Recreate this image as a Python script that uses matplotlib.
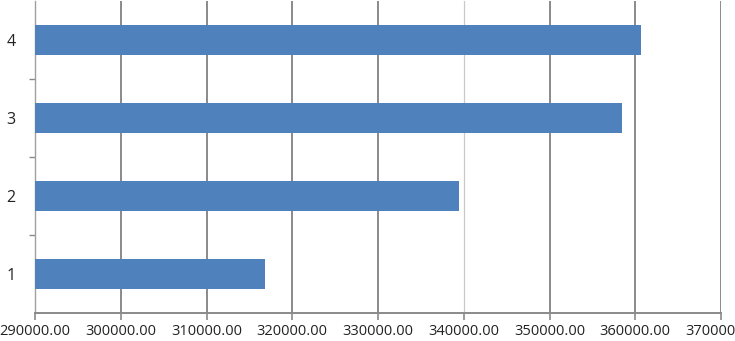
import matplotlib
matplotlib.use("Agg")
import matplotlib.pyplot as plt
from matplotlib.ticker import FixedLocator

categories = ["1", "2", "3", "4"]
values = [316800, 339450, 358450, 360650]
x_ticks = [290000, 300000, 310000, 320000, 330000, 340000, 350000, 360000, 370000]
x_labels = ["290000.00", "300000.00", "310000.00", "320000.00", "330000.00",
            "340000.00", "350000.00", "360000.00", "370000.00"]

plt.rcParams['font.family'] = ['Open Sans', 'DejaVu Sans']

fig = plt.figure(figsize=(7.35, 3.41), dpi=100)
ax = fig.add_axes([35/735, 28/341, (721-35)/735, (313-1)/341])

ypos = list(range(1, len(categories) + 1))
ax.barh(ypos, [v - x_ticks[0] for v in values], left=x_ticks[0], height=0.385,
        color="#4F81BD", zorder=3)

ax.set_xlim(x_ticks[0], x_ticks[-1])
ax.set_ylim(0.5, len(categories) + 0.5)

for xt in x_ticks[1:]:
    c = "#c8c8c8" if xt == 340000 else "#8a8a8a"
    lw = 0.9 if xt == 340000 else 1.4
    ax.axvline(xt, color=c, lw=lw, zorder=1)

ax.set_xticks(x_ticks)
ax.set_xticklabels(x_labels, fontsize=10.5, color="#222222")
ax.tick_params(axis="x", length=5, width=1.2, color="#8a8a8a", pad=3)

ax.set_yticks(ypos)
ax.set_yticklabels(categories, fontsize=11.5, color="#222222")
ax.tick_params(axis="y", which="major", length=0, pad=14)
ax.yaxis.set_minor_locator(FixedLocator([1.5, 2.5, 3.5]))
ax.tick_params(axis="y", which="minor", length=4, width=1.0, color="#8a8a8a")

for s in ["top", "right"]:
    ax.spines[s].set_visible(False)
ax.spines["left"].set_color("#a0a0a0")
ax.spines["left"].set_linewidth(1.0)
ax.spines["bottom"].set_color("#8a8a8a")
ax.spines["bottom"].set_linewidth(1.4)
ax.spines["bottom"].set_zorder(4)

fig.savefig("out.png", dpi=100)
